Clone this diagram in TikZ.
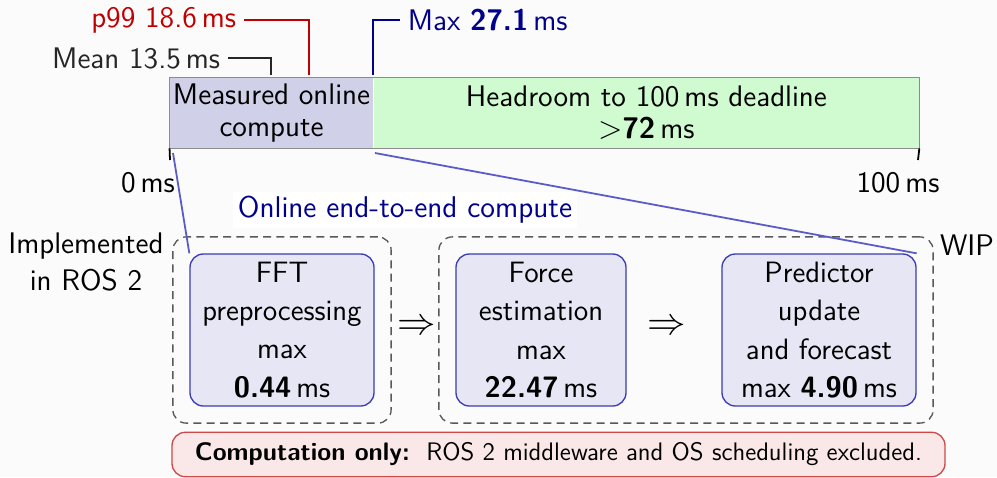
\documentclass[tikz,border=0pt]{standalone}
\usepackage{tikz}
\usetikzlibrary{positioning,fit}
\renewcommand{\familydefault}{\sfdefault}

\definecolor{measuredfill}{HTML}{D0D0E8}
\definecolor{headfill}{HTML}{D0FAD0}
\definecolor{stagefill}{HTML}{E6E6F5}
\definecolor{stageline}{HTML}{3C3CB4}
\definecolor{zoomline}{HTML}{5A5AC8}
\definecolor{pninetynine}{HTML}{C00000}
\definecolor{maxblue}{HTML}{00008C}
\definecolor{notefill}{HTML}{FAE8E8}
\definecolor{noteline}{HTML}{D04848}

\tikzstyle{stage} = [rectangle, draw=stageline, fill=stagefill, line width=0.6pt, text centered, rounded corners=6pt, minimum height=68.4pt, align=center, inner sep=0pt, font=\fontsize{13.25}{17.2}\selectfont]

\begin{document}
\begin{tikzpicture}[x=0.45pt, y=-0.45pt, >=stealth]
	\tikzstyle{segment}=[rectangle, minimum height=31.5pt, inner sep=0pt, align=center, font=\fontsize{13.4}{14.4}\selectfont]
	\tikzstyle{marker}=[line width=1.3pt]
	\tikzstyle{group}=[draw=black!65, dashed, dash pattern=on 3.6pt off 2.4pt, line width=0.6pt, rounded corners=6pt, inner sep=7.4pt]
	\tikzstyle{annot}=[font=\fontsize{13.4}{16.5}\selectfont]
	\tikzstyle{flow}=[font=\fontsize{18.5}{20}\selectfont]
  \fill[black!1.5] (0,0) rectangle (997,477);
  \useasboundingbox (0,0) rectangle (997,477);
  % timeline bar
  \node[segment, fill=measuredfill, minimum width=91.35pt] (measured) at (271.5,113) {Measured online\\compute};
  \node[segment, fill=headfill, minimum width=245.25pt, right=0pt of measured] (headroom) {Headroom to 100\,ms deadline\\$>$\textbf{72}\,ms};
  \draw[black!45, line width=0.5pt] (measured.north west) rectangle (headroom.south east);
  \coordinate (tick0) at (170,160);
  \coordinate (tick100) at (918,160);
  \draw[line width=0.8pt] (measured.south west) -- (tick0);
  \draw[line width=0.8pt] (headroom.south east) -- (tick100);
  \node[annot] (zero) at (148,183) {0\,ms};
  \node[annot] (hundred) at (898,183) {100\,ms};
  % markers
  \node[annot, anchor=east, text=black!85] (mean) at (228,58) {Mean 13.5\,ms};
  \node[annot, anchor=east, text=pninetynine] (p99) at (244,20) {p99 18.6\,ms};
  \node[annot, anchor=west, text=maxblue] (max) at (400,20) {Max \textbf{27.1}\,ms};
  \coordinate (meanfoot) at (271,75);
  \coordinate (p99foot) at (309,75);
  \coordinate (maxfoot) at (373,75);
  \draw[marker, black!85] (mean.east) -| (meanfoot);
  \draw[marker, pninetynine] (p99.east) -| (p99foot);
  \draw[marker, maxblue] (max.west) -| (maxfoot);
  % stages
  \node[stage, minimum width=82.8pt] (fft) at (282,330) {FFT\\preprocessing\\max\\\textbf{0.44}\,ms};
  \node[stage, minimum width=76.5pt] (force) at (541,330) {Force\\estimation\\max\\\textbf{22.47}\,ms};
  \node[stage, minimum width=87.3pt] (pred) at (819,330) {Predictor\\update\\and forecast\\max \textbf{4.90}\,ms};
  \node[group, fit=(fft)] (ros) {};
  \node[group, fit=(force) (pred)] (wip) {};
  \node[flow] (arr1) at (417,327) {$\Rightarrow$};
  \node[flow] (arr2) at (667,327) {$\Rightarrow$};
  \node[annot, align=center] (impl) at (86,262) {Implemented\\in ROS 2};
  \node[annot] (wiplabel) at (967,245) {WIP};
  % zoom
  \coordinate (zoomleft) at (173,153);
  \coordinate (zoomright) at (375,153);
  \draw[zoomline, line width=0.8pt] (zoomleft) -- (fft.north west);
  \draw[zoomline, line width=0.8pt] (zoomright) -- (pred.north east);
  \node[fill=white, text=maxblue, inner sep=2pt, font=\fontsize{13.5}{16}\selectfont] (online) at (405,210) {Online end-to-end compute};
  % note
  \node[draw=noteline, fill=notefill, line width=0.6pt, rounded corners=6pt, minimum width=347.85pt, minimum height=20pt, font=\fontsize{11.4}{13}\selectfont] (note) at (558.5,454.5) {\textbf{Computation only:}\ \ ROS 2 middleware and OS scheduling excluded.};
\end{tikzpicture}
\end{document}
